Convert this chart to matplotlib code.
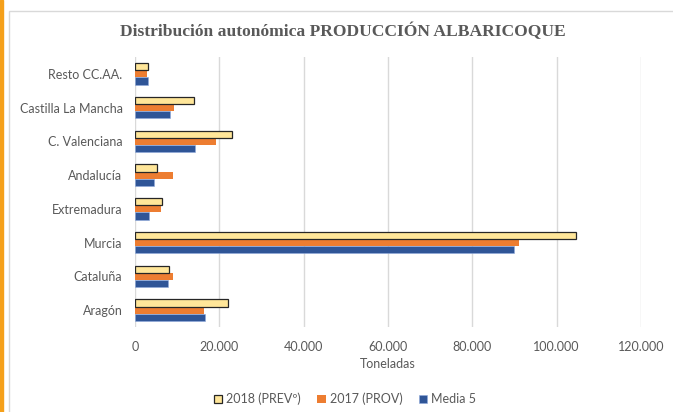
import matplotlib.pyplot as plt
import numpy as np
from matplotlib.patches import Rectangle
from matplotlib.ticker import FuncFormatter

# data (toneladas)
regiones = ["Aragón", "Cataluña", "Murcia", "Extremadura", "Andalucía",
            "C. Valenciana", "Castilla La Mancha", "Resto CC.AA."]
prev_2018 = [22000, 8150, 104600, 6500, 5100, 23100, 14000, 3000]
prov_2017 = [16400, 8900, 91000, 6100, 8950, 19100, 9200, 2750]
media_5 = [16700, 7850, 89900, 3300, 4600, 14300, 8200, 3000]

gris = "#595959"
plt.rcParams["font.family"] = ["Lato", "DejaVu Sans"]

fig = plt.figure(figsize=(6.73, 4.12), dpi=100)
ax = fig.add_axes([135 / 673, 1 - 327 / 412, (641 - 135) / 673, (327 - 57) / 412])

# orange strip and chart frame
fig.patches.append(Rectangle((0, 0), 3 / 673, 1, transform=fig.transFigure,
                             color="#F5A01A", zorder=0))
fig.patches.append(Rectangle((9 / 673, -0.1), 1, 1 - 11 / 412 + 0.1, transform=fig.transFigure,
                             facecolor="none", edgecolor="#D9D9D9", linewidth=1, zorder=0))

y = np.arange(len(regiones))
h = 0.21
ax.barh(y + h, prev_2018, height=h, color="#FFE699", edgecolor="#262626",
        linewidth=0.9, label="2018 (PREVº)", zorder=3)
ax.barh(y, prov_2017, height=h, color="#ED7D31", label="2017 (PROV)", zorder=2)
ax.barh(y - h, media_5, height=h, color="#2F5597", edgecolor="#8FAADC",
        linewidth=0.4, label="Media 5", zorder=2)

ax.set_xlim(0, 120000)
ax.set_ylim(-0.5, len(regiones) - 0.5)
ax.set_xticks(np.arange(0, 120001, 20000))
ax.xaxis.set_major_formatter(FuncFormatter(lambda v, p: f"{int(v):,}".replace(",", ".")))
ax.set_yticks(y)
ax.set_yticklabels(regiones)
ax.grid(axis="x", color="#D9D9D9", linewidth=1, zorder=0)
for s in ax.spines.values():
    s.set_visible(False)
ax.tick_params(length=0, colors=gris, labelsize=9)
ax.tick_params(axis="x", pad=10)
ax.tick_params(axis="y", pad=9)

ax.set_xlabel("Toneladas", color=gris, fontsize=9, labelpad=4)

fig.text(343 / 673, 1 - 31 / 412, "Distribución autonómica PRODUCCIÓN ALBARICOQUE",
         ha="center", va="center", fontsize=12.6, fontweight="bold", color=gris,
         family=["Liberation Serif", "DejaVu Serif"])

fig.legend(loc="center", bbox_to_anchor=(345 / 673, 1 - 399 / 412), ncol=3, frameon=False,
           fontsize=9, labelcolor=gris, handlelength=0.7, handleheight=0.7,
           handletextpad=0.3, columnspacing=1.3)

fig.savefig("out.png", dpi=100)
